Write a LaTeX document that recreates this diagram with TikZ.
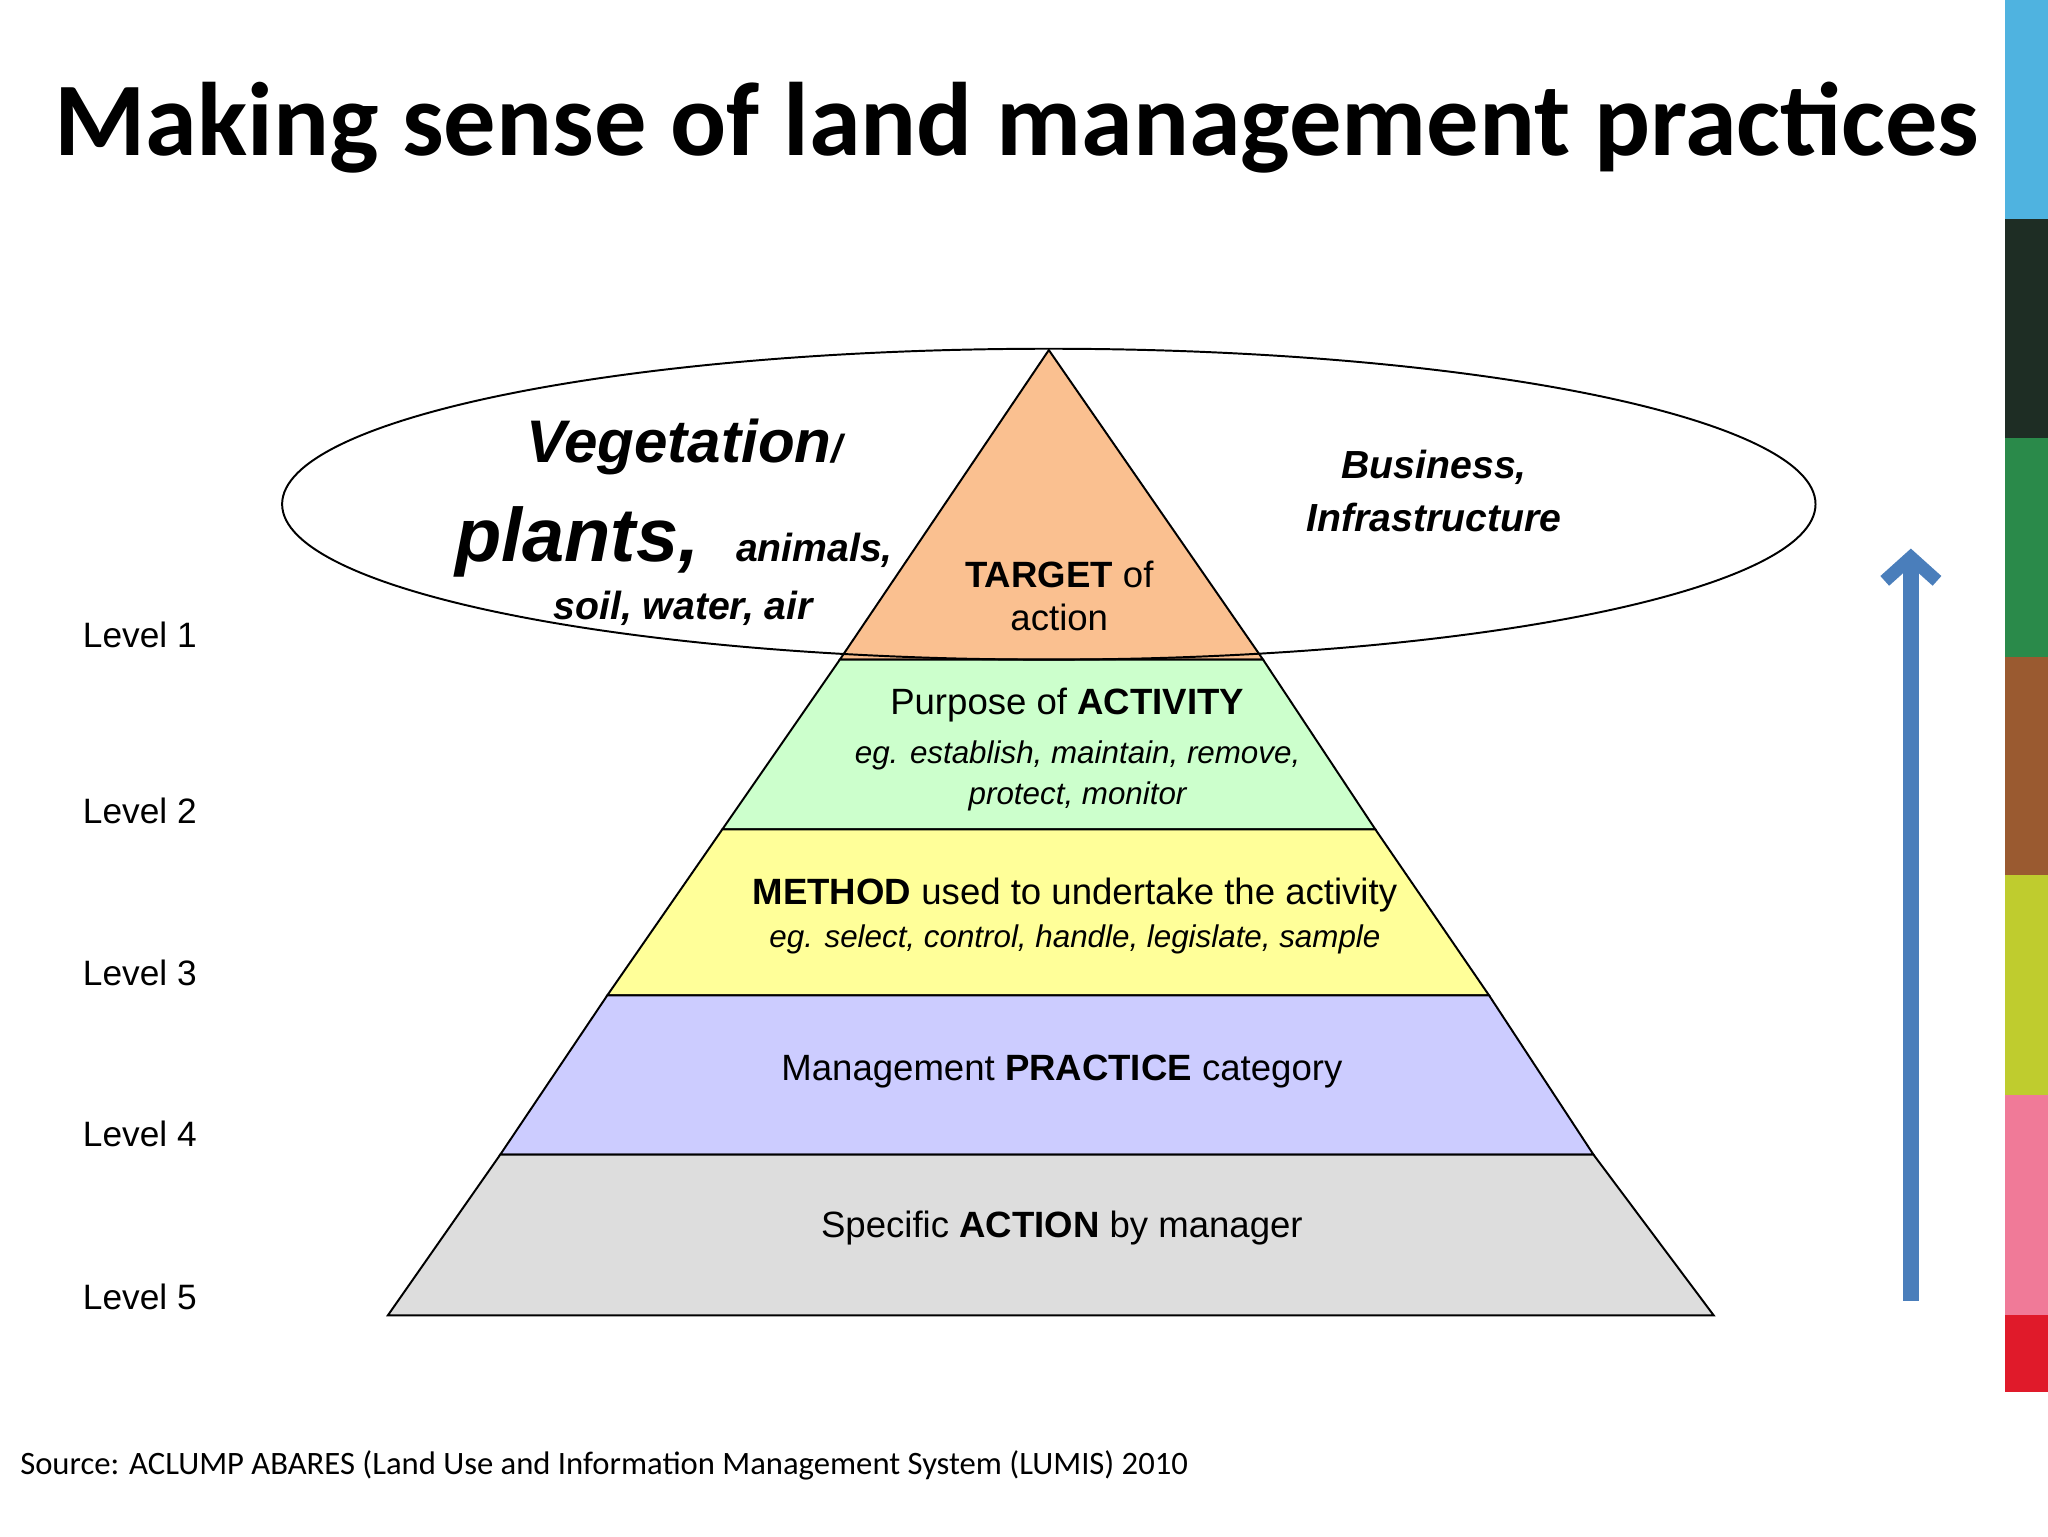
\documentclass[tikz,border=0pt]{standalone}
\usepackage{fontspec}
\setmainfont{Liberation Sans}
\newfontfamily\carl{Carlito}
\usetikzlibrary{arrows.meta}
\begin{document}
\begin{tikzpicture}[x=1pt,y=-1pt,
  lvl/.style={anchor=west,font=\fontsize{27}{30}\selectfont},
  txt/.style={align=center,font=\fontsize{28}{33}\selectfont},
  band/.style={draw=black,line width=1.5pt}]
\useasboundingbox (0,0) rectangle (1568,1176);
\fill[white] (0,0) rectangle (1568,1176);
% colour bar
\fill[fill={rgb,255:red,79;green,179;blue,224}] (1535,0) rectangle (1568,168);
\fill[fill={rgb,255:red,30;green,45;blue,36}] (1535,168) rectangle (1568,335);
\fill[fill={rgb,255:red,42;green,138;blue,74}] (1535,335) rectangle (1568,503);
\fill[fill={rgb,255:red,154;green,90;blue,48}] (1535,503) rectangle (1568,670);
\fill[fill={rgb,255:red,191;green,204;blue,46}] (1535,670) rectangle (1568,838);
\fill[fill={rgb,255:red,240;green,122;blue,152}] (1535,838) rectangle (1568,1007);
\fill[fill={rgb,255:red,224;green,26;blue,42}] (1535,1007) rectangle (1568,1066);
% title
\node[anchor=west,font=\carl\bfseries\fontsize{80}{90}\selectfont] (title) at (38,98) {Making sense of land management practices};
% pyramid bands
\filldraw[band,fill={rgb,255:red,250;green,192;blue,144}] (803,268) -- (967,505) -- (643,505) -- cycle;
\filldraw[band,fill={rgb,255:red,204;green,255;blue,204}] (643,505) -- (967,505) -- (1053,635) -- (553,635) -- cycle;
\filldraw[band,fill={rgb,255:red,255;green,255;blue,153}] (553,635) -- (1053,635) -- (1140,762) -- (465,762) -- cycle;
\filldraw[band,fill={rgb,255:red,204;green,204;blue,255}] (465,762) -- (1140,762) -- (1220,884) -- (383,884) -- cycle;
\filldraw[band,fill={rgb,255:red,221;green,221;blue,221}] (383,884) -- (1220,884) -- (1312,1007) -- (297,1007) -- cycle;
% ellipse
\draw[line width=1.5pt] (803,386) ellipse [x radius=587, y radius=119];
% pyramid texts
\node[txt] (t1) at (811,456) {\textbf{TARGET} of\\action};
\node[txt] (t2a) at (817,540) {Purpose of \textbf{ACTIVITY}};
\node[txt,font=\itshape\fontsize{24}{32}\selectfont] (t2b) at (825,594) {eg. establish, maintain, remove,\\protect, monitor};
\node[txt] (t3a) at (823,685) {\textbf{METHOD} used to undertake the activity};
\node[txt,font=\itshape\fontsize{24}{30}\selectfont] (t3b) at (823,719) {eg. select, control, handle, legislate, sample};
\node[txt] (t4) at (813,820) {Management \textbf{PRACTICE} category};
\node[txt] (t5) at (813,940) {Specific \textbf{ACTION} by manager};
% ellipse texts
\node[font=\bfseries\itshape\fontsize{46}{50}\selectfont] (veg) at (524,342) {Vegetation\fontsize{30}{30}\selectfont/};
\node[anchor=base west,font=\bfseries\itshape\fontsize{58}{60}\selectfont] (pl) at (345,430) {plants,};
\node[anchor=base west,font=\bfseries\itshape\fontsize{30}{32}\selectfont] (an) at (560,430) {animals,};
\node[font=\bfseries\itshape\fontsize{30}{32}\selectfont] (soil) at (523,466) {soil, water, air};
\node[align=center,font=\bfseries\itshape\fontsize{30}{41}\selectfont] (bus) at (1098,376) {Business,\\Infrastructure};
% levels
\node[lvl] (l1) at (60,486) {Level 1};
\node[lvl] (l2) at (60,621) {Level 2};
\node[lvl] (l3) at (60,745) {Level 3};
\node[lvl] (l4) at (60,868) {Level 4};
\node[lvl] (l5) at (60,993) {Level 5};
% arrow
\coordinate (ab) at (1463,996);
\coordinate (at) at (1463,420);
\draw[line width=12pt,color={rgb,255:red,74;green,126;blue,187},-{Straight Barb[length=18pt,width=40pt,line width=10pt]}] (ab) -- (at);
% source
\node[anchor=west,font=\carl\fontsize{25}{28}\selectfont] (src) at (12,1122) {Source: ACLUMP ABARES (Land Use and Information Management System (LUMIS) 2010};
\end{tikzpicture}
\end{document}
